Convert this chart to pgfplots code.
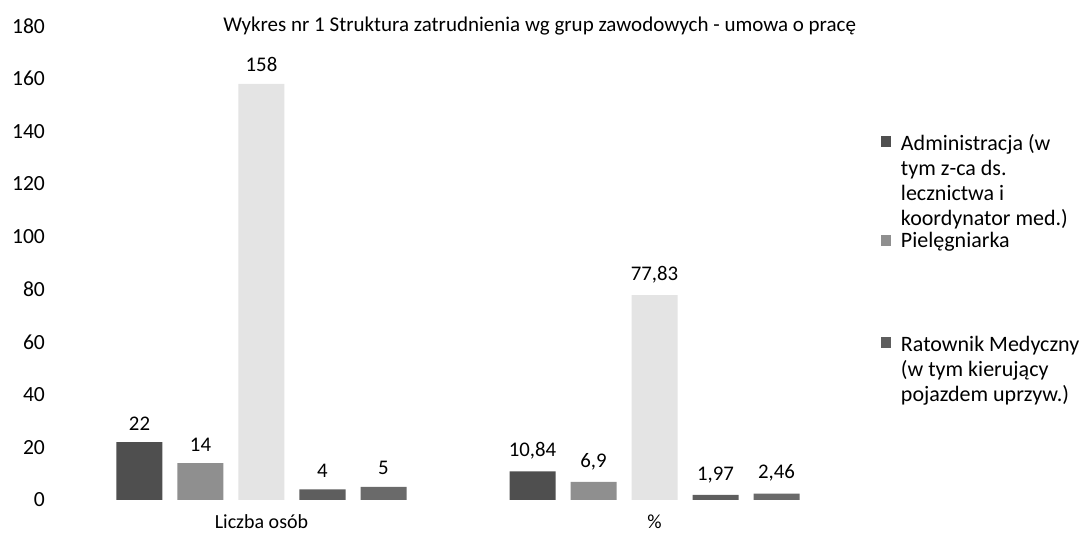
\documentclass[border=0pt]{standalone}
\usepackage{fontspec}
\setmainfont{Carlito}
\usepackage{pgfplots}
\pgfplotsset{compat=1.18}
\definecolor{c1}{HTML}{4F4F4F}
\definecolor{c2}{HTML}{8F8F8F}
\definecolor{c3}{HTML}{E4E4E4}
\definecolor{c4}{HTML}{5E5E5E}
\definecolor{c5}{HTML}{6A6A6A}
\begin{document}
\begin{tikzpicture}
\useasboundingbox (-32.5pt,-20.5pt) rectangle (509pt,250pt);
\begin{axis}[
  scale only axis, width=393pt, height=237pt,
  xmin=-0.5, xmax=1.5, ymin=0, ymax=180,
  ybar=7.5pt, bar width=23pt,
  xtick={0,1}, xticklabels={Liczba osób,\%},
  ytick={0,20,...,180},
  axis line style={draw=none}, major tick length=0pt,
  font=\fontsize{10}{12}\selectfont,
  yticklabel style={font=\fontsize{10.8}{12}\selectfont, xshift=-6.5pt},
  xticklabel style={font=\fontsize{10}{12}\selectfont, yshift=-4pt},
  /pgf/number format/assume math mode=true,
  /pgf/number format/use comma,
  clip=false,
  every axis title shift=0pt,
  title={Wykres nr 1 Struktura zatrudnienia wg grup zawodowych - umowa o pracę},
  title style={at={(0.604,1.0)}, anchor=center, font=\fontsize{10.5}{12}\selectfont},
  legend cell align=left,
  legend style={at={(1.03,0.783)}, anchor=north west, draw=none, fill=none,
    font=\fontsize{11}{12.5}\selectfont, row sep=1.5pt, nodes={inner ysep=0pt, inner xsep=5pt}},
  legend image code/.code={\fill[c2] (0pt,-2.5pt) rectangle (5pt,3pt);},
  nodes near coords,
  nodes near coords style={font=\fontsize{10.4}{12}\selectfont, yshift=2.5pt},
  every axis plot/.append style={draw=none},
]
\addplot[fill=c1, legend image code/.code={\fill[c1] (0pt,17pt) rectangle (5pt,22.5pt);}] coordinates {(0,22) (1,10.84)};
\addlegendentry{\begin{tabular}[b]{@{}l@{}}Administracja (w\\tym z-ca ds.\\lecznictwa i\\koordynator med.)\end{tabular}}
\addplot[fill=c2] coordinates {(0,14) (1,6.9)};
\addlegendentry{Pielęgniarka}
\addplot[fill=c3, legend image code/.code={}] coordinates {(0,158) (1,77.83)};
\addlegendentry{\rule{0pt}{37.5pt}}
\addplot[fill=c4, legend image code/.code={\fill[c4] (0pt,10.85pt) rectangle (5pt,16.35pt);}] coordinates {(0,4) (1,1.97)};
\addlegendentry{\begin{tabular}[b]{@{}l@{}}Ratownik Medyczny\\(w tym kierujący\\pojazdem uprzyw.)\end{tabular}}
\addplot[fill=c5] coordinates {(0,5) (1,2.46)};
\end{axis}
\end{tikzpicture}
\end{document}
